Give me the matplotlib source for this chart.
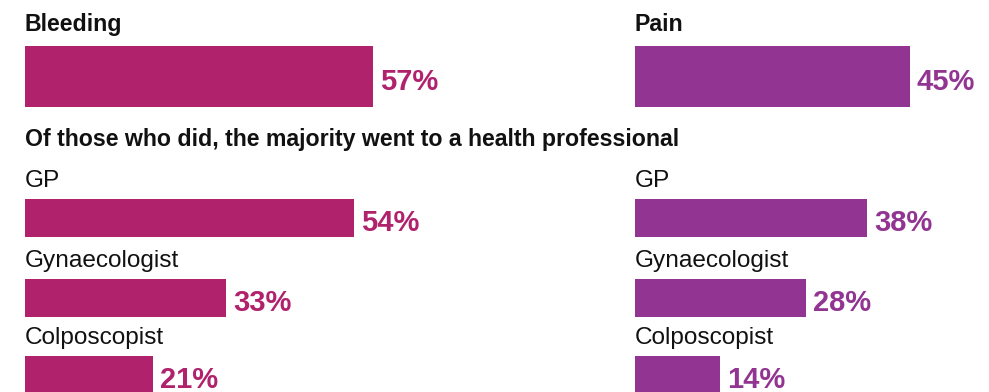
import matplotlib
matplotlib.use("Agg")
import matplotlib.pyplot as plt
from matplotlib.transforms import offset_copy

plt.rcParams["font.family"] = ["Liberation Sans", "DejaVu Sans"]

# Data
panel_titles = ["Bleeding", "Pain"]
headline_values = [57, 45]
subtitle = "Of those who did, the majority went to a health professional"
professionals = ["GP", "Gynaecologist", "Colposcopist"]
bleeding_values = [54, 33, 21]
pain_values = [38, 28, 14]
colors = ["#B0226C", "#913492"]

W, H, DPI = 989, 392, 100
PX_PER_PCT = 6.1

fig = plt.figure(figsize=(W / DPI, H / DPI), dpi=DPI)
fig.patch.set_facecolor("white")

# Layout (pixel rows from the top of the figure)
title_base = 31
top_bar_center, top_bar_h = 76.4, 60.7
subtitle_base = 146
sub_bar_centers = [218.0, 298.0, 374.7]
sub_bar_h = 37.4
label_gap = 12

panels = [
    (25, 580, panel_titles[0], headline_values[0], bleeding_values, colors[0]),
    (635, 350, panel_titles[1], headline_values[1], pain_values, colors[1]),
]

for i, (x0, width, title, head_val, vals, col) in enumerate(panels):
    ax = fig.add_axes([x0 / W, 0, width / W, 1])
    ax.set_xlim(0, width / PX_PER_PCT)
    ax.set_ylim(H, 0)
    ax.axis("off")

    val_tr = offset_copy(ax.transData, fig=fig, x=7, y=0, units="dots")

    ax.text(0, title_base, title, fontsize=16.7, fontweight="bold",
            color="#111111", ha="left", va="baseline")
    ax.barh([top_bar_center], [head_val], height=top_bar_h, color=col,
            left=0)
    ax.text(head_val, top_bar_center + 13.3, f"{head_val}%", transform=val_tr,
            fontsize=21, fontweight="bold", color=col, ha="left",
            va="baseline", clip_on=False)

    if i == 0:
        ax.text(0, subtitle_base, subtitle, fontsize=16.7, fontweight="bold",
                color="#111111", ha="left", va="baseline", clip_on=False)

    ax.barh(sub_bar_centers, vals, height=sub_bar_h, color=col, left=0)
    for name, v, c in zip(professionals, vals, sub_bar_centers):
        top = c - sub_bar_h / 2
        ax.text(0, top - label_gap, name, fontsize=17.6, color="#111111",
                ha="left", va="baseline")
        ax.text(v, c + 13.3, f"{v}%", transform=val_tr, fontsize=21,
                fontweight="bold", color=col, ha="left", va="baseline",
                clip_on=False)

fig.savefig("out.png", dpi=DPI, facecolor="white")
